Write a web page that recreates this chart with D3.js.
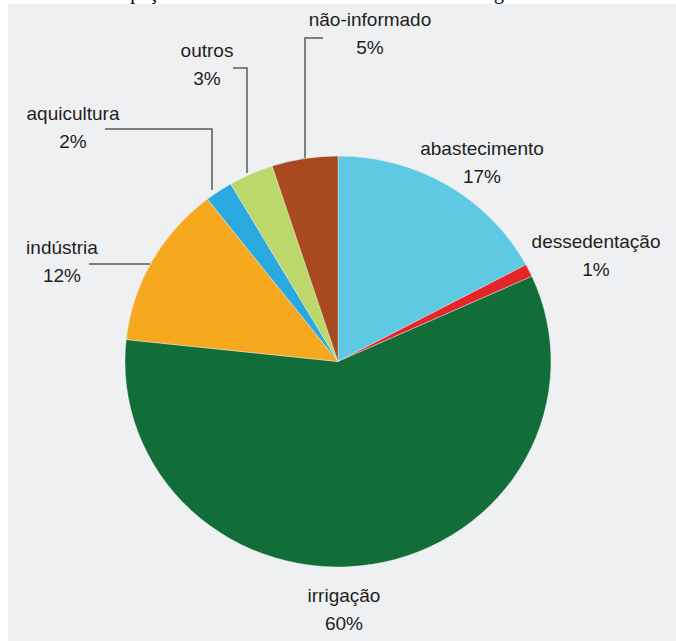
<!DOCTYPE html>
<html>
<head>
<meta charset="utf-8">
<script src="https://cdn.jsdelivr.net/npm/d3@7"></script>
<style>
  html, body { margin: 0; padding: 0; background: #ffffff; }
</style>
</head>
<body>
<div id="pie-chart"></div>
<script>
// Uses, in clockwise order starting at 12 o'clock
const categories = ["abastecimento", "dessedentação", "irrigação", "indústria", "aquicultura", "outros", "não-informado"];
// Slice shares (%)
const shares = [17.2, 1.0, 58.5, 12.8, 2.1, 3.4, 5.0];
// Printed labels
const pctLabels = ["17%", "1%", "60%", "12%", "2%", "3%", "5%"];
const colors = ["#5fc8e3", "#e4262a", "#116e39", "#f6a81f", "#29a9e0", "#bdd86a", "#a8491f"];

const width = 676;
const height = 641;
const center = {x: 338, y: 361.5};
const radius = 205.5;
const stretchX = 213 / 205.5;

const svg = d3.select("#pie-chart")
    .append("svg")
    .attr("width", width)
    .attr("height", height);

// Title cut off at the top of the picture, only descenders show
svg.append("text")
    .attr("x", 78)
    .attr("y", -1)
    .attr("font-family", "Liberation Serif, serif")
    .attr("font-size", 20)
    .attr("fill", "#000")
    .text("Participação dos usos na vazão de retirada total de água");

// Grey panel
svg.append("rect")
    .attr("x", 8)
    .attr("y", 4)
    .attr("width", width - 8)
    .attr("height", height - 4)
    .attr("fill", "#eff0f2");

const pie = d3.pie().sort(null).value(d => d.share);
const arc = d3.arc().innerRadius(0).outerRadius(radius);

const data = categories.map((c, i) => ({name: c, share: shares[i], label: pctLabels[i], color: colors[i]}));

const pieG = svg.append("g")
    .attr("transform", `translate(${center.x},${center.y}) scale(${stretchX},1)`);

pieG.selectAll("path")
    .data(pie(data))
    .join("path")
    .attr("d", arc)
    .attr("fill", d => d.data.color)
    .attr("stroke", "#eff0f2")
    .attr("stroke-width", 0.4);

// Leader lines (polyline points in page coords)
const leaders = [
    [[323, 38], [305, 38], [305, 158]],
    [[233, 68], [247, 68], [247, 173]],
    [[105, 129], [212, 129], [212, 190]],
    [[89, 264], [150, 264]]
];

svg.selectAll("polyline")
    .data(leaders)
    .join("polyline")
    .attr("points", d => d.map(p => p.join(",")).join(" "))
    .attr("fill", "none")
    .attr("stroke", "#5a5a5a")
    .attr("stroke-width", 1.5);

// Label positions: center x, baseline y of first line
const labelPos = [
    [482, 155], [596, 248], [344, 602], [62, 254], [73, 120], [207, 57], [370, 26]
];

const labels = svg.selectAll("g.label")
    .data(data)
    .join("g")
    .attr("class", "label")
    .attr("transform", (d, i) => `translate(${labelPos[i][0]},${labelPos[i][1]})`);

labels.append("text")
    .attr("text-anchor", "middle")
    .attr("font-family", "Liberation Sans, Arial, sans-serif")
    .attr("font-size", 19)
    .attr("fill", "#1e1e1e")
    .text(d => d.name);

labels.append("text")
    .attr("text-anchor", "middle")
    .attr("y", 28)
    .attr("font-family", "Liberation Sans, Arial, sans-serif")
    .attr("font-size", 19)
    .attr("fill", "#1e1e1e")
    .text(d => d.label);
</script>
</body>
</html>
